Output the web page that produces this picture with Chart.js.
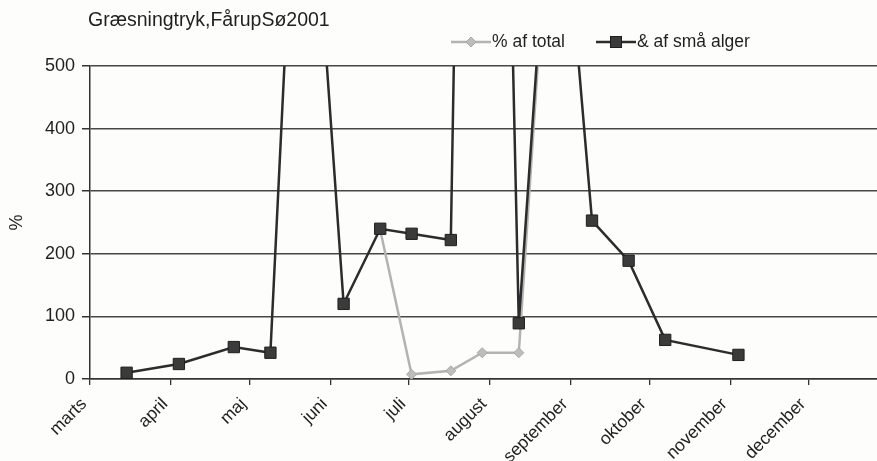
<!DOCTYPE html>
<html>
<head>
<meta charset="utf-8">
<script src="https://cdn.jsdelivr.net/npm/chart.js@4/dist/chart.umd.min.js"></script>
<style>
  html, body { margin: 0; padding: 0; background: #fdfdfc; overflow: hidden; }
  #wrap { width: 877px; height: 461px; position: relative; }
</style>
</head>
<body>
<div id="wrap"><canvas id="c" width="877" height="461"></canvas></div>
<script>
// Grazing pressure, Fårup Sø 2001 — sampling dates and percentages
const chartTitle = 'Græsningtryk,FårupSø2001';
const yAxisTitle = '%';

const monthLabels = ['marts', 'april', 'maj', 'juni', 'juli', 'august',
                     'september', 'oktober', 'november', 'december'];
const monthStarts = ['2001-03-01', '2001-04-01', '2001-05-01', '2001-06-01', '2001-07-01',
                     '2001-08-01', '2001-09-01', '2001-10-01', '2001-11-01', '2001-12-01'];
const yTicks = [0, 100, 200, 300, 400, 500];

const totalLabel = '% af total';
const totalDates  = ['2001-06-20', '2001-07-02', '2001-07-17', '2001-07-29', '2001-08-12', '2001-08-26'];
const totalValues = [238, 7.5, 13, 42, 42, 930];

const algLabel = '& af små alger';
const algDates  = ['2001-03-15', '2001-04-04', '2001-04-25', '2001-05-09', '2001-05-21', '2001-06-06',
                   '2001-06-20', '2001-07-02', '2001-07-17', '2001-07-28', '2001-08-12', '2001-08-26',
                   '2001-09-09', '2001-09-23', '2001-10-07', '2001-11-04'];
const algValues = [10, 24, 51, 42, 1070, 120,
                   240, 232, 222, 2900, 89, 940,
                   253, 189, 62.5, 38.5];

// x positions are days counted from 1 March
const DAY = 86400000;
const seasonStart = Date.UTC(2001, 2, 1);
function dayOf(s) {
  const [y, m, d] = s.split('-').map(Number);
  return Math.round((Date.UTC(y, m - 1, d) - seasonStart) / DAY);
}
const tickDays = monthStarts.map(dayOf);
const toPoints = (dates, vals) => dates.map((d, i) => ({ x: dayOf(d), y: vals[i] }));

const FONT = '"Liberation Sans", Arial, Helvetica, sans-serif';
const INK = '#1f1f1f';
const GREY_LINE = '#b3b3b3';
const GREY_FILL = '#bdbdbd';
const DARK_LINE = '#2c2c2c';
const DARK_FILL = '#3b3b3b';

// small swatches (line + marker) for the legend
function swatch(kind) {
  const c = document.createElement('canvas');
  c.width = 40; c.height = 14;
  const g = c.getContext('2d');
  g.strokeStyle = kind === 'grey' ? GREY_LINE : DARK_LINE;
  g.lineWidth = 2.5;
  g.beginPath(); g.moveTo(0, 7); g.lineTo(40, 7); g.stroke();
  if (kind === 'grey') {
    g.fillStyle = GREY_FILL; g.strokeStyle = '#a8a8a8'; g.lineWidth = 1;
    g.beginPath(); g.moveTo(20, 2); g.lineTo(25, 7); g.lineTo(20, 12); g.lineTo(15, 7); g.closePath();
    g.fill(); g.stroke();
  } else {
    g.fillStyle = DARK_FILL; g.strokeStyle = '#1e1e1e'; g.lineWidth = 1;
    g.fillRect(14.5, 1.5, 11, 11); g.strokeRect(14.5, 1.5, 11, 11);
  }
  return c;
}

const headerPlugin = {
  id: 'header',
  afterDraw(chart) {
    const ctx = chart.ctx;
    ctx.save();
    ctx.fillStyle = INK;
    ctx.textBaseline = 'middle';
    ctx.textAlign = 'left';
    ctx.font = '19.5px ' + FONT;
    ctx.fillText(chartTitle, 88, 21);
    ctx.font = '17.5px ' + FONT;
    const items = [
      { img: swatch('grey'), text: totalLabel, x: 451 },
      { img: swatch('dark'), text: algLabel, x: 596 }
    ];
    for (const it of items) {
      ctx.drawImage(it.img, it.x, 35);
      ctx.fillText(it.text, it.x + 41, 42);
    }
    ctx.restore();
  }
};

new Chart(document.getElementById('c'), {
  type: 'line',
  data: {
    datasets: [
      {
        label: totalLabel,
        data: toPoints(totalDates, totalValues),
        borderColor: GREY_LINE,
        borderWidth: 2.5,
        pointStyle: 'rectRot',
        pointRadius: 5,
        pointBackgroundColor: GREY_FILL,
        pointBorderColor: '#a8a8a8',
        pointBorderWidth: 1,
        tension: 0,
        order: 2
      },
      {
        label: algLabel,
        data: toPoints(algDates, algValues),
        borderColor: DARK_LINE,
        borderWidth: 2.5,
        pointStyle: 'rect',
        pointRadius: 8,
        pointBackgroundColor: DARK_FILL,
        pointBorderColor: '#1e1e1e',
        pointBorderWidth: 1,
        tension: 0,
        order: 1
      }
    ]
  },
  options: {
    responsive: false,
    animation: false,
    devicePixelRatio: 1,
    layout: { autoPadding: false, padding: { top: 66, left: 6, right: 0, bottom: 0 } },
    plugins: {
      legend: { display: false },
      title: { display: false },
      tooltip: { enabled: false }
    },
    scales: {
      x: {
        type: 'linear',
        min: 0,
        max: 301,
        afterBuildTicks: (axis) => { axis.ticks = tickDays.map(v => ({ value: v })); },
        afterFit: (s) => { s.height = 82; s.paddingRight = 0; s.paddingLeft = 0; },
        ticks: {
          autoSkip: false,
          maxRotation: 45,
          minRotation: 45,
          labelOffset: -6,
          padding: 9,
          color: INK,
          font: { family: FONT, size: 17.5 },
          callback: (v) => { const i = tickDays.indexOf(v); return i >= 0 ? monthLabels[i] : ''; }
        },
        grid: {
          drawOnChartArea: false,
          drawTicks: true,
          tickLength: 6,
          tickColor: '#333333',
          lineWidth: 1.3
        },
        border: { display: true, color: '#333333', width: 1.5 }
      },
      y: {
        min: 0,
        max: 500,
        afterBuildTicks: (axis) => { axis.ticks = yTicks.map(v => ({ value: v })); },
        afterFit: (s) => { s.width = 84; },
        ticks: {
          padding: 7,
          color: INK,
          font: { family: FONT, size: 18 }
        },
        grid: {
          color: '#474747',
          lineWidth: 1.5,
          drawTicks: true,
          tickLength: 8,
          tickColor: '#333333'
        },
        border: { display: true, color: '#333333', width: 1.5 },
        title: {
          display: true,
          text: yAxisTitle,
          color: INK,
          font: { family: FONT, size: 18 },
          padding: { top: 0, bottom: 0 }
        }
      }
    }
  },
  plugins: [headerPlugin]
});
</script>
</body>
</html>
